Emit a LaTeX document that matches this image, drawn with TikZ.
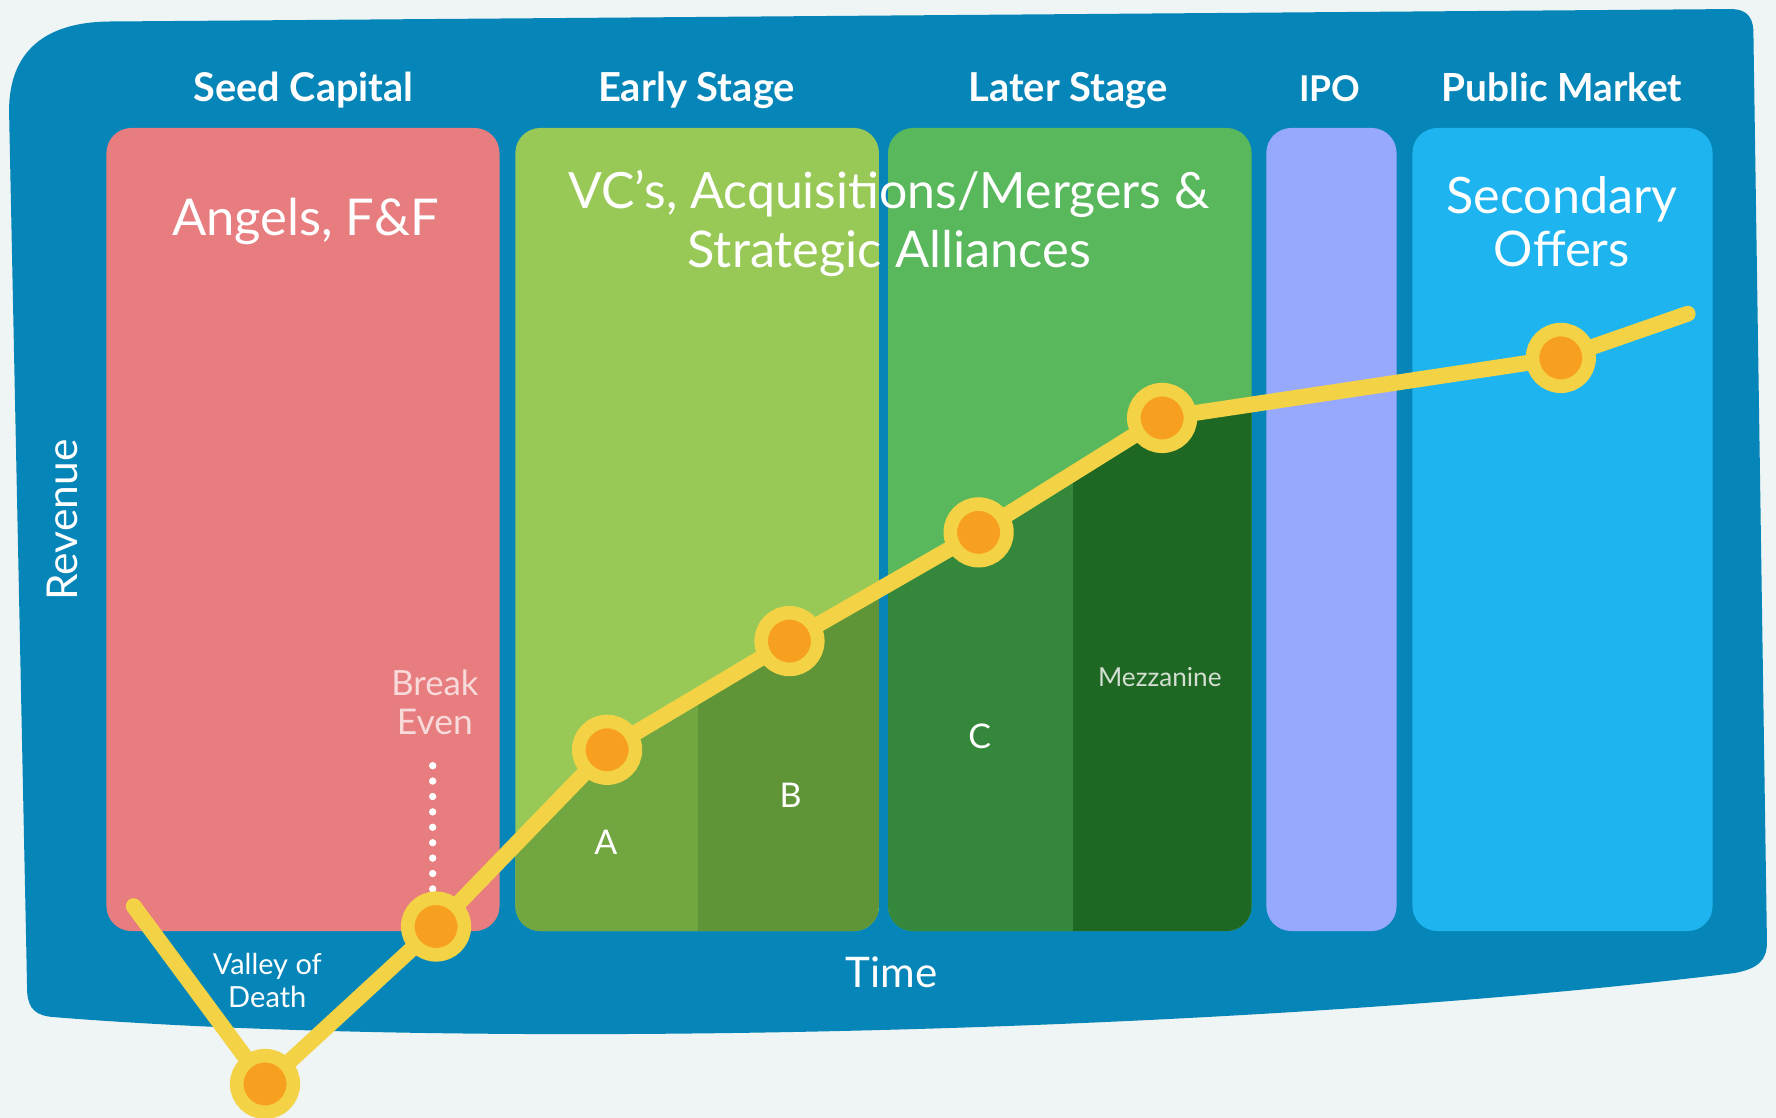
\documentclass[tikz,border=0pt]{standalone}
\usepackage{fontspec}
\setmainfont{Lato}
\usepackage{graphicx}
\definecolor{bgcol}{HTML}{EFF4F4}
\definecolor{outerblue}{HTML}{0585B8}
\definecolor{seedpink}{HTML}{E77D7F}
\definecolor{earlygreen}{HTML}{98C957}
\definecolor{latergreen}{HTML}{59B75C}
\definecolor{ipoblue}{HTML}{97A9FC}
\definecolor{publicblue}{HTML}{1EB4F0}
\definecolor{roundA}{HTML}{72A640}
\definecolor{roundB}{HTML}{5F9537}
\definecolor{roundC}{HTML}{35883B}
\definecolor{roundM}{HTML}{1F6823}
\definecolor{lineyellow}{HTML}{F4D246}
\definecolor{dotorange}{HTML}{F7A01F}
\definecolor{paletext}{HTML}{F8DADA}
\definecolor{mezztext}{HTML}{D3DFD3}
\newcommand{\fitw}[2]{\resizebox{#1pt}{!}{#2}}
\begin{document}
\begin{tikzpicture}[x=1pt,y=-1pt,
  panel/.style={rounded corners=22pt},
  trend/.style={line width=14pt, color=lineyellow, line cap=round, line join=round},
  milestone/.style={circle, fill=dotorange, draw=lineyellow, line width=12pt, minimum size=50pt, inner sep=0pt},
  hdr/.style={text=white, anchor=base, inner sep=0pt, font=\bfseries\fontsize{34}{40}\selectfont},
  lbl/.style={text=white, inner sep=0pt, align=center}]

\useasboundingbox (0,0) rectangle (1568,987);
\fill[bgcol] (0,0) rectangle (1568,987);

% outer board
\fill[outerblue] (8,98) .. controls (8,45) and (40,20) .. (95,19)
  -- (1528,8) .. controls (1541,8) and (1547,14) .. (1548,26)
  -- (1560,832) .. controls (1560,848) and (1552,855) .. (1532,859)
  .. controls (1100,912) and (420,928) .. (48,898)
  .. controls (32,897) and (25,891) .. (24,876) -- cycle;

% panels
\fill[seedpink, panel] (94,113) rectangle (441,822);
\fill[earlygreen, panel] (455,113) rectangle (776,822);
\fill[latergreen, panel] (784,113) rectangle (1105,822);
\fill[ipoblue, panel] (1118,113) rectangle (1233,822);
\fill[publicblue, panel] (1247,113) rectangle (1512,822);

% milestones
\coordinate (p0) at (118,800);
\coordinate (v) at (234,957);
\coordinate (be) at (385,818);
\coordinate (ra) at (536,662);
\coordinate (rb) at (697,566);
\coordinate (rc) at (864,470);
\coordinate (rm) at (1026,369);
\coordinate (so) at (1378,316);
\coordinate (pend) at (1490,277);
\coordinate (betop) at (382,676);

% funding rounds below the curve
\begin{scope}
  \clip (p0) -- (v) -- (be) -- (ra) -- (rb) -- (rc) -- (rm) -- (so) -- (pend)
        -- (1568,277) -- (1568,987) -- (0,987) -- (0,800) -- cycle;
  \begin{scope}
    \clip[panel] (455,113) rectangle (776,822);
    \fill[roundA] (455,100) rectangle (616,830);
    \fill[roundB] (616,100) rectangle (776,830);
  \end{scope}
  \begin{scope}
    \clip[panel] (784,113) rectangle (1105,822);
    \fill[roundC] (784,100) rectangle (947,830);
    \fill[roundM] (947,100) rectangle (1105,830);
  \end{scope}
\end{scope}

% break even dots
\draw[white, line width=6.5pt, line cap=round, dash pattern=on 0pt off 13.6pt]
  (betop) -- (betop |- be);

% trend line
\draw[trend] (p0) -- (v) -- (be) -- (ra) -- (rb) -- (rc) -- (rm) -- (so) -- (pend);
\node[milestone] (nv) at (v) {};
\node[milestone] (nbe) at (be) {};
\node[milestone] (na) at (ra) {};
\node[milestone] (nb) at (rb) {};
\node[milestone] (nc) at (rc) {};
\node[milestone] (nm) at (rm) {};
\node[milestone] (nso) at (so) {};

% headers
\node[hdr] (hseed) at (268,90) {\fitw{194}{Seed Capital}};
\node[hdr] (hearly) at (615,90) {\fitw{174}{Early Stage}};
\node[hdr] (hlater) at (943,90) {\fitw{176}{Later Stage}};
\node[hdr] (hipo) at (1174,90) {\fitw{54}{IPO}};
\node[hdr] (hpublic) at (1379,90) {\fitw{212}{Public Market}};

% panel titles
\node[lbl, anchor=base] (angels) at (270,208) {\fontsize{44}{52}\selectfont\fitw{236}{Angels, F\&F}};
\node[lbl, font=\fontsize{44}{52}\selectfont] (vcs) at (785,197.5)
  {\fitw{566}{VC’s, Acquisitions/Mergers \&}\\\fitw{356}{Strategic Alliances}};
\node[lbl, font=\fontsize{44}{47}\selectfont] (secondary) at (1379,196)
  {\fitw{204}{Secondary}\\\fitw{120}{Offers}};

% axes
\node[lbl, rotate=90] (revenue) at (55,459) {\fontsize{36}{40}\selectfont\fitw{142}{Revenue}};
\node[lbl] (time) at (787,858) {\fontsize{34}{40}\selectfont\fitw{81}{Time}};

% annotations
\node[lbl, font=\fontsize{24}{29}\selectfont] (valley) at (236,866)
  {\fitw{96}{Valley of}\\\fitw{69}{Death}};
\node[lbl, text=paletext, font=\fontsize{28}{34}\selectfont] (breakeven) at (384,620)
  {\fitw{77}{Break}\\\fitw{67}{Even}};
\node[lbl, font=\fontsize{30}{36}\selectfont] (la) at (535,744) {A};
\node[lbl, font=\fontsize{30}{36}\selectfont] (lb) at (698,702) {B};
\node[lbl, font=\fontsize{30}{36}\selectfont] (lc) at (865,650) {C};
\node[lbl, text=mezztext] (lm) at (1024,598) {\fontsize{20}{24}\selectfont\fitw{109}{Mezzanine}};
\end{tikzpicture}
\end{document}
